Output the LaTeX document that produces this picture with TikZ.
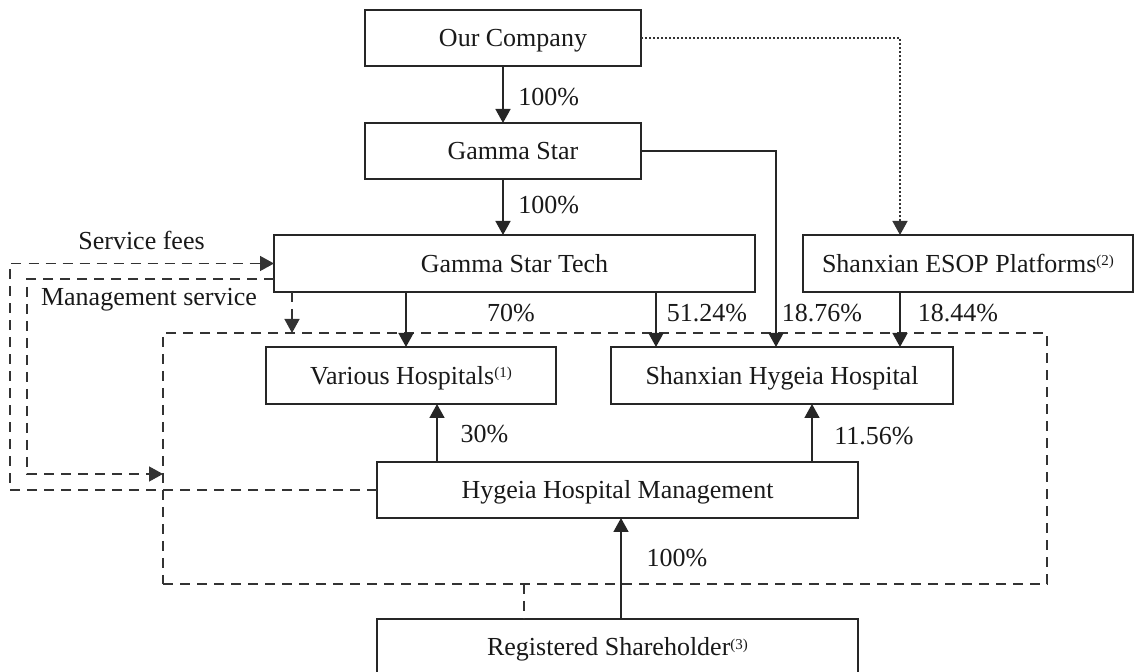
\documentclass[tikz,border=0pt]{standalone}
\usepackage{fontspec}
\setmainfont{Liberation Serif}
\usetikzlibrary{arrows.meta}
\newcommand{\supx}[1]{\raisebox{0.55ex}{\fontsize{7.5}{8}\selectfont(#1)}}
\begin{document}
\begin{tikzpicture}[x=0.5pt,y=-0.5pt,
  font=\fontsize{13}{15}\selectfont,
  tip/.style={-{Triangle[width=7.5pt,length=7pt]}},
  box/.style={draw=black!85, line width=0.8pt, inner sep=0pt, outer sep=0pt, minimum height=28pt, text=black!90, text height=8.6pt, text depth=0pt},
  arr/.style={draw=black!85, line width=0.8pt, tip},
  dsh/.style={draw=black!80, line width=0.7pt, dash pattern=on 5pt off 3.5pt},
  dot/.style={draw=black!80, line width=0.7pt, dash pattern=on 1pt off 1pt},
  lbl/.style={text=black!90, inner sep=0pt}]
\useasboundingbox (0,0) rectangle (1136,672);

% group frame
\node[dsh, minimum width=442pt, minimum height=125.5pt, inner sep=0pt, outer sep=0pt] (grp) at (605,458.5) {};

% boxes
\node[box, minimum width=138pt] (oc) at (503,38) {\hspace*{10pt}Our Company};
\node[box, minimum width=138pt] (gs) at (503,151) {\hspace*{10pt}Gamma Star};
\node[box, minimum width=240.5pt, minimum height=28.5pt] (gst) at (514.5,263.5) {Gamma Star Tech};
\node[box, minimum width=165pt, minimum height=28.5pt] (esop) at (968,263.5) {Shanxian ESOP Platforms\supx{2}};
\node[box, minimum width=145pt, minimum height=28.5pt] (vh) at (411,375.5) {Various Hospitals\supx{1}};
\node[box, minimum width=171pt, minimum height=28.5pt] (shh) at (782,375.5) {Shanxian Hygeia Hospital};
\node[box, minimum width=240.5pt] (hhm) at (617.5,490) {Hygeia Hospital Management};
\node[box, minimum width=240.5pt] (rs) at (617.5,647) {Registered Shareholder\supx{3}};

% helper coordinates
\coordinate (x10) at (10,0);
\coordinate (x27) at (27,0);
\coordinate (x292) at (292,0);
\coordinate (x406) at (406,0);
\coordinate (x437) at (437,0);
\coordinate (x524) at (524,0);
\coordinate (x621) at (621,0);
\coordinate (x656) at (656,0);
\coordinate (x776) at (776,0);
\coordinate (x812) at (812,0);
\coordinate (x900) at (900,0);
\coordinate (y279) at (0,279);
\coordinate (y474) at (0,474);

% solid ownership arrows
\draw[arr] (oc.south) -- (gs.north);
\draw[arr] (gs.south) -- (gs.south |- gst.north);
\draw[arr] (x406 |- gst.south) -- (x406 |- vh.north);
\draw[arr] (x656 |- gst.south) -- (x656 |- shh.north);
\draw[arr] (gs.east) -| (x776 |- shh.north);
\draw[arr] (x900 |- esop.south) -- (x900 |- shh.north);
\draw[arr] (x437 |- hhm.north) -- (x437 |- vh.south);
\draw[arr] (x812 |- hhm.north) -- (x812 |- shh.south);
\draw[arr] (x621 |- rs.north) -- (x621 |- hhm.south);

% dotted
\draw[dot, tip] (oc.east) -| (x900 |- esop.north);

% dashed
\draw[dsh, tip] (x292 |- gst.south) -- (x292 |- grp.north);
\draw[dsh, tip] (hhm.west) -| (x10 |- gst.west) -- (gst.west);
\draw[dsh, tip] (gst.west |- y279) -| (x27 |- y474) -- (grp.west |- y474);
\draw[dsh] (x524 |- grp.south) -- (x524 |- rs.north);

% labels
\node[lbl, anchor=west] (l1) at (518,97) {100\%};
\node[lbl, anchor=west] (l2) at (518,205) {100\%};
\node[lbl] (lsf) at (141.5,240) {Service fees};
\node[lbl] (lms) at (149,300) {Management service};
\node[lbl] (l70) at (511,313) {70\%};
\node[lbl] (l5124) at (707,313) {51.24\%};
\node[lbl] (l1876) at (822,313) {18.76\%};
\node[lbl] (l1844) at (958,313) {18.44\%};
\node[lbl] (l30) at (484.5,434) {30\%};
\node[lbl] (l1156) at (874,436) {11.56\%};
\node[lbl] (l100b) at (677,558) {100\%};
\end{tikzpicture}
\end{document}
